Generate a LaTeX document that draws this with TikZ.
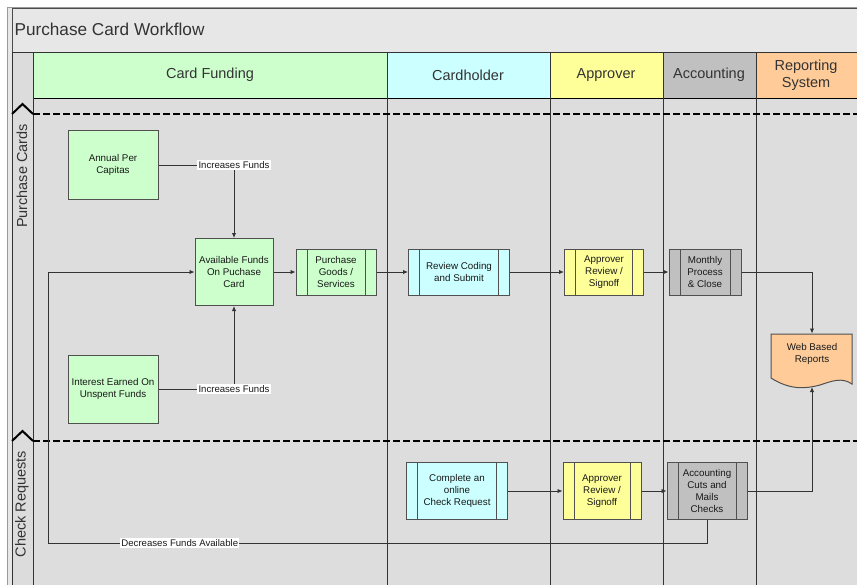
\documentclass[tikz,border=0pt]{standalone}
\usepackage{fontspec}
\setmainfont{Liberation Sans}
\usetikzlibrary{arrows.meta,positioning,calc}
\definecolor{fund}{RGB}{204,255,204}
\definecolor{holder}{RGB}{204,255,255}
\definecolor{approve}{RGB}{255,255,153}
\definecolor{acct}{RGB}{192,192,192}
\definecolor{report}{RGB}{255,204,153}
\definecolor{pane}{RGB}{221,221,221}
\definecolor{bar}{RGB}{231,231,231}
\definecolor{edge}{RGB}{80,80,80}

\begin{document}
\begin{tikzpicture}[x=1pt,y=-1pt]
\tikzstyle{B}=[draw=edge,line width=1pt,align=center,inner sep=1pt,
text=black!90,font=\fontsize{9.8}{12}\selectfont]
\tikzstyle{P}=[B,path picture={\draw[edge,line width=1pt]
([xshift=11pt]path picture bounding box.north west)--([xshift=11pt]path picture bounding box.south west)
([xshift=-11pt]path picture bounding box.north east)--([xshift=-11pt]path picture bounding box.south east);}]
\tikzstyle{H}=[align=center,text=black!80,font=\fontsize{14.5}{17.5}\selectfont]
\tikzstyle{line}=[draw=black!80,line width=0.9pt,-{Latex[length=5pt,width=4.5pt]}]
\tikzstyle{lbl}=[fill=white,inner sep=1.2pt,text=black!90,font=\fontsize{9.6}{11}\selectfont]
\tikzstyle{sep}=[line width=2.2pt,dash pattern=on 6.5pt off 3.5pt]
\tikzstyle{chev}=[line width=2pt,line join=miter]

\useasboundingbox (0,0) rectangle (857,584);
\fill[white] (0,0) rectangle (857,584);
% frame and lanes
\filldraw[fill=bar,draw=black!40] (7,7) rectangle (880,600);
\draw[black!70,line width=1pt] (12,8) rectangle (880,600);
\fill[bar!95!black] (12,52) rectangle (33,600);
\fill[pane] (33,98) rectangle (880,600);
\filldraw[fill=fund,draw=black] (33,52) rectangle (387,98);
\filldraw[fill=holder,draw=black] (387,52) rectangle (550,98);
\filldraw[fill=approve,draw=black] (550,52) rectangle (663,98);
\filldraw[fill=acct,draw=black] (663,52) rectangle (756,98);
\filldraw[fill=report,draw=black] (756,52) rectangle (880,98);
\draw[black!80,line width=1pt] (12,52) -- (880,52) (12,52) -- (12,600) (33,52) -- (33,600);
\foreach \x in {387,550,663,756}
  \draw[black!80,line width=1pt] (\x,52) -- (\x,600);
\node[anchor=west,text=black!80,font=\fontsize{17.2}{19}\selectfont] (title) at (11,29) {Purchase Card Workflow};
\node[H] (hfund) at (210,75) {Card Funding};
\node[H] (hholder) at (468,75) {Cardholder};
\node[H] (happrove) at (606,75) {Approver};
\node[H] (hacct) at (709,75) {Accounting};
\node[H] (hreport) at (806,75) {Reporting\\System};
% swimlane rows
\draw[sep] (33,114) -- (880,114);
\draw[sep] (33,441) -- (880,441);
\draw[chev] (12,114) -- (22.5,104) -- (33,114);
\draw[chev] (12,441) -- (22.5,431) -- (33,441);
\node[H,rotate=90] (rowcard) at (22,176) {Purchase Cards};
\node[H,rotate=90] (rowcheck) at (22,504) {Check Requests};

% purchase cards row
\node[B,fill=fund,minimum width=90,minimum height=69] (annual) at (113,165) {Annual Per\\Capitas};
\node[B,fill=fund,minimum width=78,minimum height=67] (avail) at (234,272) {Available Funds\\On Puchase\\Card};
\node[B,fill=fund,minimum width=90,minimum height=68] (interest) at (113,389) {Interest Earned On\\Unspent Funds};
\node[P,fill=fund,minimum width=80,minimum height=46] (buy) at (336,272) {Purchase\\Goods /\\Services};
\node[P,fill=holder,minimum width=101,minimum height=46] (review) at (459,272) {Review Coding\\and Submit};
\node[P,fill=approve,minimum width=79,minimum height=46] (signoff) at (604,272) {Approver\\Review /\\Signoff};
\node[P,fill=acct,minimum width=72,minimum height=46] (monthly) at (705,272) {Monthly\\Process\\\& Close};
% web reports document
\filldraw[fill=report,draw=edge,line width=1pt] (771,334) -- (852,334) -- (852,384)
  .. controls (842,377) and (832,381) .. (820,385)
  .. controls (805,389) and (790,390) .. (771,378) -- cycle;
\node[B,draw=none,minimum height=40] (web) at (812,354) {Web Based\\Reports};
\coordinate (webfoot) at (812,387);

% check requests row
\node[P,fill=holder,minimum width=101,minimum height=57] (online) at (457,491) {Complete an\\online\\Check Request};
\node[P,fill=approve,minimum width=78,minimum height=57] (signoff2) at (602,491) {Approver\\Review /\\Signoff};
\node[P,fill=acct,minimum width=80,minimum height=57] (cuts) at (707,491) {Accounting\\Cuts and\\Mails\\Checks};
\coordinate (loop) at (48,543);

% connectors
\draw[line] (annual) -- (annual -| avail) node[lbl] {Increases Funds} -- (avail);
\draw[line] (interest) -- (interest -| avail) node[lbl] {Increases Funds} -- (avail);
\draw[line] (avail) -- (buy);
\draw[line] (buy) -- (review);
\draw[line] (review) -- (signoff);
\draw[line] (signoff) -- (monthly);
\draw[line] (monthly) -| (web);
\draw[line] (online) -- (signoff2);
\draw[line] (signoff2) -- (cuts);
\draw[line] (cuts) -| (webfoot);
\draw[line] (cuts.south) |- node[lbl,pos=0.9] {Decreases Funds Available} (loop) |- (avail);
\end{tikzpicture}
\end{document}
